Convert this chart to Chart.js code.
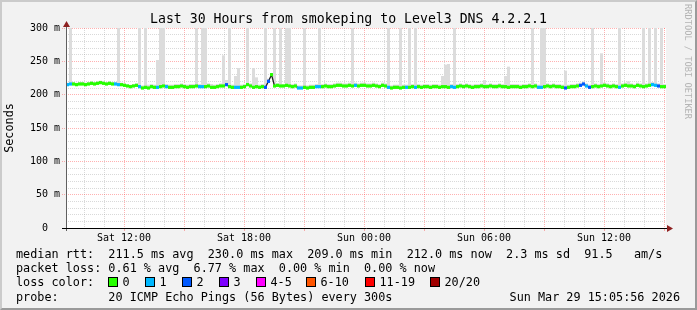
<!DOCTYPE html>
<html>
<head>
<meta charset="utf-8">
<script src="https://cdn.jsdelivr.net/npm/chart.js@4"></script>
<style>
html,body{margin:0;padding:0;background:#f2f2f2;}
#wrap{position:relative;width:697px;height:310px;background:#f2f2f2;overflow:hidden;font-family:"DejaVu Sans Mono",monospace;color:#000;}
#c{position:absolute;left:0;top:0;}
#frame{position:absolute;left:0;top:0;width:697px;height:310px;box-sizing:border-box;border-top:2px solid #cbcbcb;border-left:2px solid #cbcbcb;border-right:2px solid #9a9a9a;border-bottom:2px solid #9a9a9a;pointer-events:none;}
.t{position:absolute;white-space:pre;font-size:11.8px;line-height:14px;}
#title{position:absolute;left:0;width:697px;top:11px;text-align:center;font-size:13.2px;line-height:16px;white-space:pre;}
#vert{position:absolute;left:683px;top:4px;writing-mode:vertical-rl;font-size:8.7px;color:#b4b4b4;white-space:pre;line-height:10px;}
.box{position:absolute;width:10px;height:10px;box-sizing:border-box;border:1px solid #000;}
</style>
</head>
<body>
<div id="wrap">
  <canvas id="c" width="697" height="310"></canvas>
  <div id="title"></div>
  <div id="vert">RRDTOOL / TOBI OETIKER</div>
  <div class="t" id="l1" style="left:16px;top:247px;"></div>
  <div class="t" id="l2" style="left:16px;top:261px;"></div>
  <div class="t" id="l3" style="left:16px;top:275px;"></div>
  <div class="t" id="l4" style="left:16px;top:290px;"></div>
  <div class="t" id="l4r" style="right:17px;top:290px;"></div>
  <div id="frame"></div>
</div>
<script>
// ---------- data ----------
const titleText = 'Last 30 Hours from smokeping to Level3 DNS 4.2.2.1';
const startHour = 9 + 5 / 60 + 56 / 3600;   // Sat 09:05:56 (hours after Sat 00:00)
const spanHours = 30;
const stepHours = 0.15;                      // one sample every 9 minutes

const medianRtt = [
  215,216,216,215,216,216,215,216,217,216,217,218,217,216,217,216,216,215,215,214,
  213,212,213,214,212,210,211,210,212,211,211,212,213,212,211,211,212,212,213,212,
  211,212,212,213,212,212,212,213,211,211,212,213,213,215,212,211,211,211,211,212,
  215,213,211,212,211,212,211,220,230,213,214,213,213,214,213,212,213,210,210,211,
  210,211,211,212,212,212,213,212,212,213,214,214,213,213,214,213,214,213,214,214,
  213,213,214,213,212,214,213,211,210,211,211,210,211,211,211,212,211,212,211,212,
  212,211,212,212,211,212,212,211,212,211,212,213,212,213,212,211,212,212,213,212,
  212,213,212,212,213,212,212,211,212,212,212,211,212,212,213,212,213,211,211,212,
  213,212,213,212,212,211,210,211,212,212,213,214,216,213,211,212,213,212,213,214,
  213,212,213,212,211,213,214,213,213,212,214,213,212,213,214,215,214,213,212,212
];
const smokeHigh = [
  218,300,219,218,219,219,218,219,220,219,220,221,220,219,220,219,219,300,218,217,
  216,215,216,217,300,214,300,215,216,215,252,300,300,216,215,215,216,216,217,216,
  215,216,216,300,216,300,300,217,216,215,216,217,259,222,300,215,228,240,215,216,
  300,217,240,226,215,216,300,224,232,300,217,300,216,300,300,216,217,214,214,300,
  214,215,215,216,300,216,217,216,216,217,218,218,217,217,218,300,218,217,218,218,
  217,217,218,217,216,218,217,300,214,215,215,300,215,215,300,216,300,216,215,216,
  216,215,216,216,215,228,245,246,216,300,216,217,216,217,216,215,216,216,217,222,
  216,217,216,216,217,216,228,242,216,216,216,215,216,216,217,300,217,215,300,300,
  217,216,217,216,216,215,236,215,216,216,217,218,220,217,215,300,217,216,262,218,
  217,216,217,216,300,217,218,220,217,216,218,217,300,217,300,219,300,217,300,216
];
const lossCount = [
  1,1,0,0,0,0,0,0,0,0,0,0,0,0,0,0,1,1,0,0,
  0,0,0,0,1,0,0,0,0,0,1,0,0,1,0,0,0,0,0,0,
  0,0,0,0,1,1,0,0,0,0,0,0,0,2,0,0,1,1,0,0,
  0,0,0,0,0,0,2,2,0,0,0,0,0,0,0,0,0,1,1,0,
  0,0,0,1,1,0,0,0,0,0,0,0,0,0,0,0,1,0,0,0,
  0,0,0,0,0,0,0,1,0,0,0,0,0,1,0,0,1,0,0,0,
  0,0,0,0,0,0,0,0,1,1,0,0,0,0,0,0,0,0,0,0,
  0,0,0,0,0,0,0,0,0,0,0,0,0,0,0,0,0,1,1,0,
  0,0,0,0,0,0,2,0,0,0,0,2,2,1,2,0,0,0,0,0,
  0,0,0,0,1,0,0,0,0,0,0,0,0,0,0,1,1,2,0,0
];

const xGridHours = [10,11,12,13,14,15,16,17,18,19,20,21,22,23,24,25,26,27,28,29,30,31,32,33,34,35,36,37,38,39];
const xLabelHours = [12, 18, 24, 30, 36];
const xLabelTexts = ['Sat 12:00', 'Sat 18:00', 'Sun 00:00', 'Sun 06:00', 'Sun 12:00'];
const yGridValues = [0,10,20,30,40,50,60,70,80,90,100,110,120,130,140,150,160,170,180,190,200,210,220,230,240,250,260,270,280,290,300];
const yLabelValues = [0, 50, 100, 150, 200, 250, 300];
const yLabelTexts = ['0  ', '50 m', '100 m', '150 m', '200 m', '250 m', '300 m'];

const lossLabels = ['0', '1', '2', '3', '4-5', '6-10', '11-19', '20/20'];
const lossColors = ['#26ff00', '#00b8ff', '#0059ff', '#7e00ff', '#ff00ff', '#ff5500', '#ff0000', '#a10000'];
const lossLegendX = [108, 145, 182, 219, 256, 306, 365, 430];

const statsLine1 = 'median rtt:  211.5 ms avg  230.0 ms max  209.0 ms min  212.0 ms now  2.3 ms sd  91.5   am/s';
const statsLine2 = 'packet loss: 0.61 % avg  6.77 % max  0.00 % min  0.00 % now';
const lossLegendTitle = 'loss color:';
const probeLine = 'probe:       20 ICMP Echo Pings (56 Bytes) every 300s';
const dateLine = 'Sun Mar 29 15:05:56 2026';

// ---------- text ----------
document.getElementById('title').textContent = titleText;
document.getElementById('l1').textContent = statsLine1;
document.getElementById('l2').textContent = statsLine2;
document.getElementById('l3').textContent = lossLegendTitle;
document.getElementById('l4').textContent = probeLine;
document.getElementById('l4r').textContent = dateLine;
const wrap = document.getElementById('wrap');
lossLabels.forEach((lab, k) => {
  const b = document.createElement('div');
  b.className = 'box';
  b.style.left = lossLegendX[k] + 'px';
  b.style.top = '277px';
  b.style.background = lossColors[k];
  wrap.appendChild(b);
  const t = document.createElement('div');
  t.className = 't';
  t.style.left = (lossLegendX[k] + 14.5) + 'px';
  t.style.top = '275px';
  t.textContent = lab;
  wrap.appendChild(t);
});

// ---------- chart ----------
function lossBucket(c) {
  if (c <= 3) return c;
  if (c <= 5) return 4;
  if (c <= 10) return 5;
  if (c <= 19) return 6;
  return 7;
}
const times = medianRtt.map((_, i) => startHour + (i + 0.5) * stepHours);
const bandHalf = 2.4;

const MGRID = 'rgba(255,60,60,0.40)';
const GRID = 'rgba(150,150,150,0.36)';
const FONT = 'DejaVu Sans Mono';

const rrdPlugin = {
  id: 'rrd',
  beforeDraw(chart) {
    const {ctx, chartArea: a} = chart;
    ctx.save();
    ctx.fillStyle = '#ffffff';
    ctx.fillRect(a.left, a.top, a.right - a.left, a.bottom - a.top);
    ctx.restore();
  },
  afterDraw(chart) {
    const {ctx, chartArea: a} = chart;
    ctx.save();
    ctx.lineWidth = 1;
    ctx.strokeStyle = '#606060';
    ctx.beginPath();
    ctx.moveTo(a.left + 0.5, a.bottom + 3);
    ctx.lineTo(a.left + 0.5, a.top - 5);
    ctx.stroke();
    ctx.strokeStyle = '#000000';
    ctx.beginPath();
    ctx.moveTo(a.left - 4, a.bottom + 0.5);
    ctx.lineTo(a.right + 5, a.bottom + 0.5);
    ctx.stroke();
    ctx.fillStyle = '#8e2020';
    ctx.beginPath();
    ctx.moveTo(a.left + 0.5, a.top - 7);
    ctx.lineTo(a.left - 3, a.top - 1);
    ctx.lineTo(a.left + 4, a.top - 1);
    ctx.closePath();
    ctx.fill();
    ctx.beginPath();
    ctx.moveTo(a.right + 7, a.bottom + 0.5);
    ctx.lineTo(a.right + 1, a.bottom - 3);
    ctx.lineTo(a.right + 1, a.bottom + 4);
    ctx.closePath();
    ctx.fill();
    ctx.restore();
  }
};

new Chart(document.getElementById('c'), {
  type: 'bar',
  data: {
    datasets: [
      {
        type: 'bar',
        label: 'smoke',
        data: times.map((t, i) => ({x: t, y: [medianRtt[i], smokeHigh[i]]})),
        backgroundColor: '#dcdcdc',
        borderWidth: 0,
        barPercentage: 1,
        categoryPercentage: 1,
        grouped: false,
        inflateAmount: 0,
        order: 3
      },
      {
        type: 'line',
        label: 'median',
        data: times.map((t, i) => ({x: t, y: medianRtt[i]})),
        borderColor: '#202020',
        borderWidth: 1.3,
        pointRadius: 0,
        tension: 0,
        fill: false,
        order: 2
      },
      {
        type: 'bar',
        label: 'loss',
        data: times.map((t, i) => ({x: t, y: [medianRtt[i] - bandHalf, medianRtt[i] + bandHalf]})),
        backgroundColor: lossCount.map(c => lossColors[lossBucket(c)]),
        borderWidth: 0,
        barPercentage: 1,
        categoryPercentage: 1,
        grouped: false,
        inflateAmount: 0,
        order: 1
      }
    ]
  },
  options: {
    responsive: false,
    animation: false,
    devicePixelRatio: 1,
    events: [],
    layout: {padding: {left: 0, right: 31, top: 28, bottom: 0}},
    plugins: {legend: {display: false}, title: {display: false}, tooltip: {enabled: false}},
    scales: {
      x: {
        type: 'linear',
        min: startHour,
        max: startHour + spanHours,
        offset: false,
        afterBuildTicks: s => { s.ticks = xGridHours.map(v => ({value: v})); },
        afterFit: s => { s.height = 82; },
        ticks: {
          autoSkip: false, maxRotation: 0, minRotation: 0, padding: 1,
          color: '#000', font: {family: FONT, size: 10},
          callback: v => { const k = xLabelHours.indexOf(v); return k >= 0 ? xLabelTexts[k] : ''; }
        },
        grid: {
          offset: false,
          lineWidth: 1,
          color: c => (c.tick && c.tick.value % 3 === 0) ? MGRID : GRID,
          tickLength: 3,
          tickColor: c => (c.tick && c.tick.value % 3 === 0) ? MGRID : 'rgba(0,0,0,0)'
        },
        border: {display: false, dash: [1, 1]}
      },
      y: {
        type: 'linear',
        min: 0,
        max: 300,
        afterBuildTicks: s => { s.ticks = yGridValues.map(v => ({value: v})); },
        afterFit: s => { s.width = 66; },
        ticks: {
          autoSkip: false, padding: 2,
          color: '#000', font: {family: FONT, size: 10},
          callback: v => { const k = yLabelValues.indexOf(v); return k >= 0 ? yLabelTexts[k] : ''; }
        },
        grid: {
          lineWidth: 1,
          color: c => (c.tick && c.tick.value % 50 === 0) ? MGRID : GRID,
          tickLength: 4,
          tickColor: c => (c.tick && c.tick.value % 50 === 0) ? MGRID : 'rgba(0,0,0,0)',
          tickBorderDash: [1, 1]
        },
        border: {display: false, dash: [1, 1]},
        title: {
          display: true, text: 'Seconds', color: '#000',
          font: {family: FONT, size: 11.8},
          padding: {top: 3, bottom: 0}
        }
      }
    }
  },
  plugins: [rrdPlugin]
});
</script>
</body>
</html>
